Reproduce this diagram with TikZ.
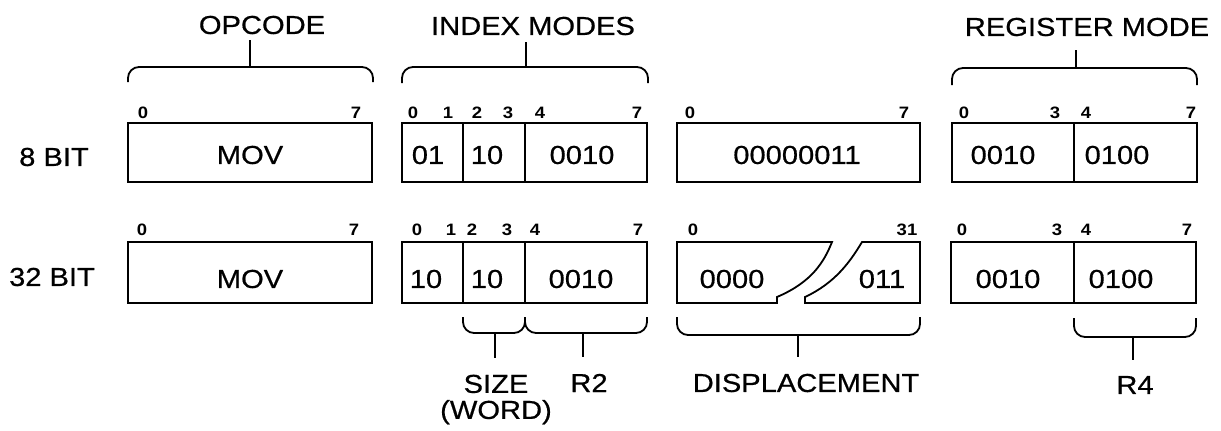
\documentclass[tikz,border=0pt]{standalone}
\usepackage{fontspec}
\setmainfont{Liberation Sans}[FakeStretch=1.12, UprightFeatures={FakeBold=0.6}]
\newcommand\bitcell[5]{\node[cellbox, minimum width=#4pt-#2pt, minimum height=#5pt-#3pt] (#1) at ({(#2+#4)/2},{(#3+#5)/2}) {};}
\begin{document}
\begin{tikzpicture}[x=1pt,y=-1pt,
  cellbox/.style={draw, line width=1.8pt, inner sep=0pt, outer sep=0pt},
  txt/.style={font=\fontsize{26}{26}\selectfont, inner sep=2pt},
  bit/.style={font=\fontsize{16.5}{16.5}\selectfont\bfseries, inner sep=1pt},
  brace/.style={line width=1.8pt, rounded corners=11pt},
  stem/.style={line width=1.8pt},
  dispshape/.style={line width=1.8pt, line join=miter},
]
\useasboundingbox (0,0) rectangle (1221,431);

% ---------- row labels ----------
\node[txt] (r8)  at (54,157) {8 BIT};
\node[txt] (r32) at (52,277) {32 BIT};

% ---------- row 1 cells ----------
\bitcell{op1}{128}{123}{372}{182}
\bitcell{ixa1}{402}{123}{463}{182}
\bitcell{ixb1}{463}{123}{525}{182}
\bitcell{ixc1}{525}{123}{647}{182}
\bitcell{dsp1}{677}{123}{920}{182}
\bitcell{rga1}{952}{123}{1074}{182}
\bitcell{rgb1}{1074}{123}{1197}{182}

% ---------- row 2 cells ----------
\bitcell{op2}{128}{242}{372}{303}
\bitcell{ixa2}{402}{242}{463}{303}
\bitcell{ixb2}{463}{242}{525}{303}
\bitcell{ixc2}{525}{242}{647}{303}
\bitcell{rga2}{951}{242}{1074}{303}
\bitcell{rgb2}{1074}{242}{1196}{303}
% broken displacement field
\draw[dispshape] (677,242) -- (832,242) .. controls (824,262) and (812,282) .. (777,297) -- (777,303) -- (677,303) -- cycle;
\draw[dispshape] (862,242) -- (920,242) -- (920,303) -- (805,303) -- (805,297) .. controls (835,283) and (850,262) .. (862,242) -- cycle;

% ---------- row 1 texts ----------
\node[txt] (t1mov) at (250,155) {MOV};
\node[txt] (t1a)   at (428,155) {01};
\node[txt] (t1b)   at (487,155) {10};
\node[txt] (t1c)   at (582,155) {0010};
\node[txt] (t1d)   at (797,155) {00000011};
\node[txt] (t1e)   at (1003,155) {0010};
\node[txt] (t1f)   at (1117,155) {0100};

% ---------- row 2 texts ----------
\node[txt] (t2mov) at (250,279) {MOV};
\node[txt] (t2a)   at (426,279) {10};
\node[txt] (t2b)   at (487,279) {10};
\node[txt] (t2c)   at (581,279) {0010};
\node[txt] (t2d)   at (732,279) {0000};
\node[txt] (t2e)   at (882,279) {011};
\node[txt] (t2f)   at (1008,279) {0010};
\node[txt] (t2g)   at (1121,279) {0100};

% ---------- bit numbers row 1 ----------
\node[bit] (b1a) at (143,113) {0};
\node[bit] (b1b) at (356,113) {7};
\node[bit] (b1c) at (413,113) {0};
\node[bit] (b1d) at (448,113) {1};
\node[bit] (b1e) at (477,113) {2};
\node[bit] (b1f) at (508,113) {3};
\node[bit] (b1g) at (540,113) {4};
\node[bit] (b1h) at (637,113) {7};
\node[bit] (b1i) at (690,113) {0};
\node[bit] (b1j) at (904,113) {7};
\node[bit] (b1k) at (964,113) {0};
\node[bit] (b1l) at (1055,113) {3};
\node[bit] (b1m) at (1086,113) {4};
\node[bit] (b1n) at (1191,113) {7};

% ---------- bit numbers row 2 ----------
\node[bit] (b2a) at (142,230) {0};
\node[bit] (b2b) at (354,230) {7};
\node[bit] (b2c) at (417,230) {0};
\node[bit] (b2d) at (451,230) {1};
\node[bit] (b2e) at (472,230) {2};
\node[bit] (b2f) at (507,230) {3};
\node[bit] (b2g) at (535,230) {4};
\node[bit] (b2h) at (638,230) {7};
\node[bit] (b2i) at (693,230) {0};
\node[bit] (b2j) at (907,230) {31};
\node[bit] (b2k) at (962,230) {0};
\node[bit] (b2l) at (1057,230) {3};
\node[bit] (b2m) at (1086,230) {4};
\node[bit] (b2n) at (1187,230) {7};

% ---------- top labels and braces ----------
\node[txt] (lopc) at (262,25) {OPCODE};
\node[txt] (lidx) at (533,26) {INDEX MODES};
\node[txt] (lreg) at (1087,27) {REGISTER MODE};

\draw[brace] (128,82) -- (128,67) -- (373,67) -- (373,82);
\coordinate (copc) at (250,67);
\draw[stem, shorten >=4pt] (copc) -- (copc |- lopc.south);

\draw[brace] (402,83) -- (402,67) -- (648,67) -- (648,83);
\coordinate (cidx) at (526,67);
\draw[stem, shorten >=5pt] (cidx) -- (cidx |- lidx.south);

\draw[brace] (952,85) -- (952,68) -- (1197,68) -- (1197,85);
\coordinate (creg) at (1076,68);
\draw[stem, shorten >=12pt] (creg) -- (creg |- lreg.south);

% ---------- bottom labels and braces ----------
\node[txt, align=center] (lsize) at (496,399.5) {SIZE\\(WORD)};
\node[txt] (lr2)  at (589,383) {R2};
\node[txt] (ldsp) at (806,383) {DISPLACEMENT};
\node[txt] (lr4)  at (1135,385) {R4};

\draw[brace] (463,317) -- (463,333) -- (525,333) -- (525,317);
\coordinate (csz) at (495,333);
\draw[stem, shorten >=15pt] (csz) -- (csz |- lsize.north);

\draw[brace] (525,317) -- (525,333) -- (647,333) -- (647,317);
\coordinate (cr2) at (583,333);
\draw[stem, shorten >=15pt] (cr2) -- (cr2 |- lr2.north);

\draw[brace] (677,317) -- (677,335) -- (920,335) -- (920,317);
\coordinate (cdsp) at (798,335);
\draw[stem, shorten >=15pt] (cdsp) -- (cdsp |- ldsp.north);

\draw[brace] (1074,318) -- (1074,337) -- (1196,337) -- (1196,318);
\coordinate (cr4) at (1133,337);
\draw[stem, shorten >=14pt] (cr4) -- (cr4 |- lr4.north);
\end{tikzpicture}
\end{document}
